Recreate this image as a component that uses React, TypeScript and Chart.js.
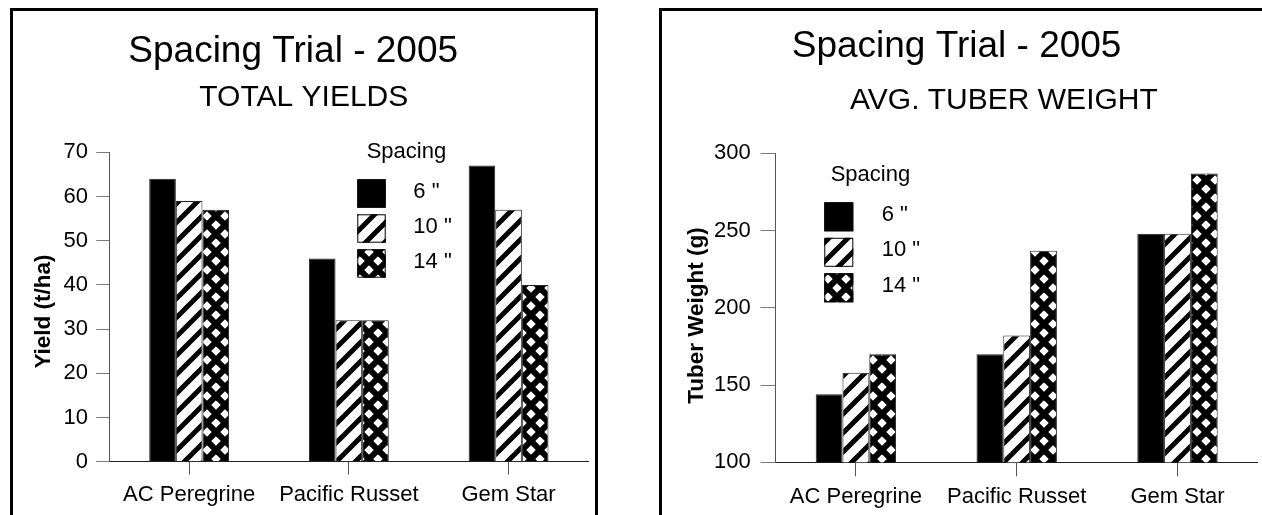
import React, { useEffect, useRef } from 'react';
import { Chart, registerables } from 'chart.js';

Chart.register(...registerables);

const FONT = "'Liberation Sans', Arial, Helvetica, sans-serif";

// ---------- data ----------
const categories = ['AC Peregrine', 'Pacific Russet', 'Gem Star'];
const spacingLabels = ['6 "', '10 "', '14 "'];

const yield6 = [64, 46, 67];
const yield10 = [59, 32, 57];
const yield14 = [57, 32, 40];

const weight6 = [144, 170, 248];
const weight10 = [158, 182, 248];
const weight14 = [170, 237, 287];

const yieldTicks = [0, 10, 20, 30, 40, 50, 60, 70];
const weightTicks = [100, 150, 200, 250, 300];

// ---------- patterns ----------
function makeHatch(): CanvasPattern {
  const s = 19;
  const c = document.createElement('canvas');
  c.width = s;
  c.height = s;
  const g = c.getContext('2d')!;
  g.fillStyle = '#fff';
  g.fillRect(0, 0, s, s);
  g.strokeStyle = '#000';
  g.lineWidth = 5;
  for (const k of [0, s, 2 * s]) {
    g.beginPath();
    g.moveTo(-s, k + s);
    g.lineTo(2 * s, k - 2 * s);
    g.stroke();
  }
  return g.createPattern(c, 'repeat')!;
}

function makeCross(): CanvasPattern {
  const p = 18;
  const c = document.createElement('canvas');
  c.width = p;
  c.height = p;
  const g = c.getContext('2d')!;
  g.fillStyle = '#fff';
  g.fillRect(0, 0, p, p);
  g.strokeStyle = '#000';
  g.lineWidth = 6;
  for (const k of [0, p, 2 * p]) {
    g.beginPath();
    g.moveTo(-p, k + p);
    g.lineTo(2 * p, k - 2 * p);
    g.stroke();
  }
  for (const k of [-p, 0, p]) {
    g.beginPath();
    g.moveTo(-p, -p - k);
    g.lineTo(2 * p, 2 * p - k);
    g.stroke();
  }
  return g.createPattern(c, 'repeat')!;
}

// ---------- plugins ----------
type TextLine = { text: string; x: number; y: number; size: number; bold?: boolean; rotate?: boolean };

function makeTextPlugin(id: string, lines: TextLine[]) {
  return {
    id,
    afterDraw(chart: any) {
      const ctx: CanvasRenderingContext2D = chart.ctx;
      ctx.save();
      ctx.fillStyle = '#000';
      for (const t of lines) {
        ctx.font = `${t.bold ? 'bold ' : ''}${t.size}px ${FONT}`;
        if (t.rotate) {
          ctx.save();
          ctx.translate(t.x, t.y);
          ctx.rotate(-Math.PI / 2);
          ctx.textAlign = 'center';
          ctx.textBaseline = 'middle';
          ctx.fillText(t.text, 0, 0);
          ctx.restore();
        } else {
          ctx.textAlign = 'left';
          ctx.textBaseline = 'alphabetic';
          ctx.fillText(t.text, t.x, t.y);
        }
      }
      ctx.restore();
    },
  };
}

type LegendCfg = {
  titleX: number;
  titleY: number;
  boxX: number;
  boxY: number;
  boxSize: number;
  pitch: number;
  labelX: number;
  size: number;
};

function makeLegendPlugin(id: string, cfg: LegendCfg) {
  return {
    id,
    afterDraw(chart: any) {
      const ctx: CanvasRenderingContext2D = chart.ctx;
      ctx.save();
      ctx.fillStyle = '#000';
      ctx.font = `${cfg.size}px ${FONT}`;
      ctx.textAlign = 'left';
      ctx.textBaseline = 'alphabetic';
      ctx.fillText('Spacing', cfg.titleX, cfg.titleY);
      chart.data.datasets.forEach((ds: any, i: number) => {
        const y = cfg.boxY + i * cfg.pitch;
        ctx.fillStyle = ds.backgroundColor;
        ctx.fillRect(cfg.boxX, y, cfg.boxSize, cfg.boxSize);
        ctx.strokeStyle = '#000';
        ctx.lineWidth = 1;
        ctx.strokeRect(cfg.boxX + 0.5, y + 0.5, cfg.boxSize - 1, cfg.boxSize - 1);
        ctx.fillStyle = '#000';
        ctx.textBaseline = 'middle';
        ctx.fillText(ds.label, cfg.labelX, y + cfg.boxSize / 2 - 2);
        ctx.textBaseline = 'alphabetic';
      });
      ctx.restore();
    },
  };
}

// ---------- scales ----------
function yScale(ticks: number[], width: number, tickLen: number, pad: number) {
  return {
    type: 'linear',
    position: 'left',
    min: ticks[0],
    max: ticks[ticks.length - 1],
    ticks: {
      stepSize: ticks[1] - ticks[0],
      color: '#000',
      font: { family: FONT, size: 22 },
      padding: pad,
    },
    grid: { drawOnChartArea: false, drawTicks: true, tickLength: tickLen, color: '#7a7a7a', lineWidth: 1 },
    border: { display: true, color: '#555', width: 1 },
    title: { display: false },
    afterFit: (s: any) => {
      s.width = width;
    },
  };
}

function xScale(tickLen: number, pad: number, height: number) {
  return {
    type: 'category',
    position: 'bottom',
    offset: true,
    grid: { offset: false, drawOnChartArea: false, drawTicks: true, tickLength: tickLen, color: '#555' },
    border: { display: true, color: '#222', width: 1 },
    ticks: { color: '#000', font: { family: FONT, size: 22 }, padding: pad, maxRotation: 0, autoSkip: false },
    afterFit: (s: any) => {
      s.height = height;
    },
  };
}

function datasets(values: number[][], fills: (string | CanvasPattern)[]) {
  return values.map((v, i) => ({
    label: spacingLabels[i],
    data: v,
    backgroundColor: fills[i],
    borderColor: '#222',
    borderWidth: 1,
    categoryPercentage: 0.5,
    barPercentage: 1.0,
  }));
}

export default function App() {
  const leftRef = useRef<HTMLCanvasElement>(null);
  const rightRef = useRef<HTMLCanvasElement>(null);

  useEffect(() => {
    const fills = ['#000', makeHatch(), makeCross()];

    const left = new Chart(leftRef.current!, {
      type: 'bar',
      data: { labels: categories, datasets: datasets([yield6, yield10, yield14], fills) as any },
      options: {
        animation: false,
        responsive: false,
        devicePixelRatio: 1,
        layout: { padding: { left: 29.3, top: 152.3, right: 41.6, bottom: 3.3 } },
        plugins: { legend: { display: false }, tooltip: { enabled: false }, title: { display: false } },
        scales: {
          x: xScale(13, 7.5, 50) as any,
          y: yScale(yieldTicks, 80, 13, 8.3) as any,
        },
      },
      plugins: [
        makeTextPlugin('leftText', [
          { text: 'Spacing Trial - 2005', x: 128.3, y: 61.7, size: 37 },
          { text: 'TOTAL YIELDS', x: 199.3, y: 106, size: 30 },
          { text: 'Yield (t/ha)', x: 44, y: 311.5, size: 22.5, bold: true, rotate: true },
        ]),
        makeLegendPlugin('leftLegend', {
          titleX: 366.7,
          titleY: 157.5,
          boxX: 357.3,
          boxY: 179.3,
          boxSize: 28.4,
          pitch: 35,
          labelX: 413.3,
          size: 22,
        }),
      ],
    });

    const right = new Chart(rightRef.current!, {
      type: 'bar',
      data: { labels: categories, datasets: datasets([weight6, weight10, weight14], fills) as any },
      options: {
        animation: false,
        responsive: false,
        devicePixelRatio: 1,
        layout: { padding: { left: 25.5, top: 153.3, right: 4.1, bottom: 2.7 } },
        plugins: { legend: { display: false }, tooltip: { enabled: false }, title: { display: false } },
        scales: {
          x: xScale(14, 7, 50) as any,
          y: yScale(weightTicks, 120, 15, 9.8) as any,
        },
      },
      plugins: [
        makeTextPlugin('rightText', [
          { text: 'Spacing Trial - 2005', x: 161.7, y: 56.7, size: 37 },
          { text: 'AVG. TUBER WEIGHT', x: 220, y: 109.3, size: 30 },
          { text: 'Tuber Weight (g)', x: 66.7, y: 315.5, size: 22.5, bold: true, rotate: true },
        ]),
        makeLegendPlugin('rightLegend', {
          titleX: 200.7,
          titleY: 181,
          boxX: 194.3,
          boxY: 202.3,
          boxSize: 29,
          pitch: 35.5,
          labelX: 251.7,
          size: 22,
        }),
      ],
    });

    return () => {
      left.destroy();
      right.destroy();
    };
  }, []);

  return (
    <div
      style={{
        position: 'fixed',
        left: 0,
        top: 0,
        width: 1262,
        height: 515,
        background: '#fff',
        overflow: 'hidden',
      }}
    >
      <canvas
        ref={leftRef}
        width={630}
        height={515}
        style={{ position: 'absolute', left: 0, top: 0, display: 'block' }}
      />
      <canvas
        ref={rightRef}
        width={632}
        height={515}
        style={{ position: 'absolute', left: 630, top: 0, display: 'block' }}
      />
      <div
        style={{
          position: 'absolute',
          left: 10,
          top: 8,
          width: 582,
          height: 600,
          borderTop: '3px solid #000',
          borderLeft: '3px solid #000',
          borderRight: '3px solid #000',
          pointerEvents: 'none',
        }}
      />
      <div
        style={{
          position: 'absolute',
          left: 659,
          top: 8,
          width: 700,
          height: 600,
          borderTop: '3px solid #000',
          borderLeft: '3px solid #000',
          pointerEvents: 'none',
        }}
      />
    </div>
  );
}
